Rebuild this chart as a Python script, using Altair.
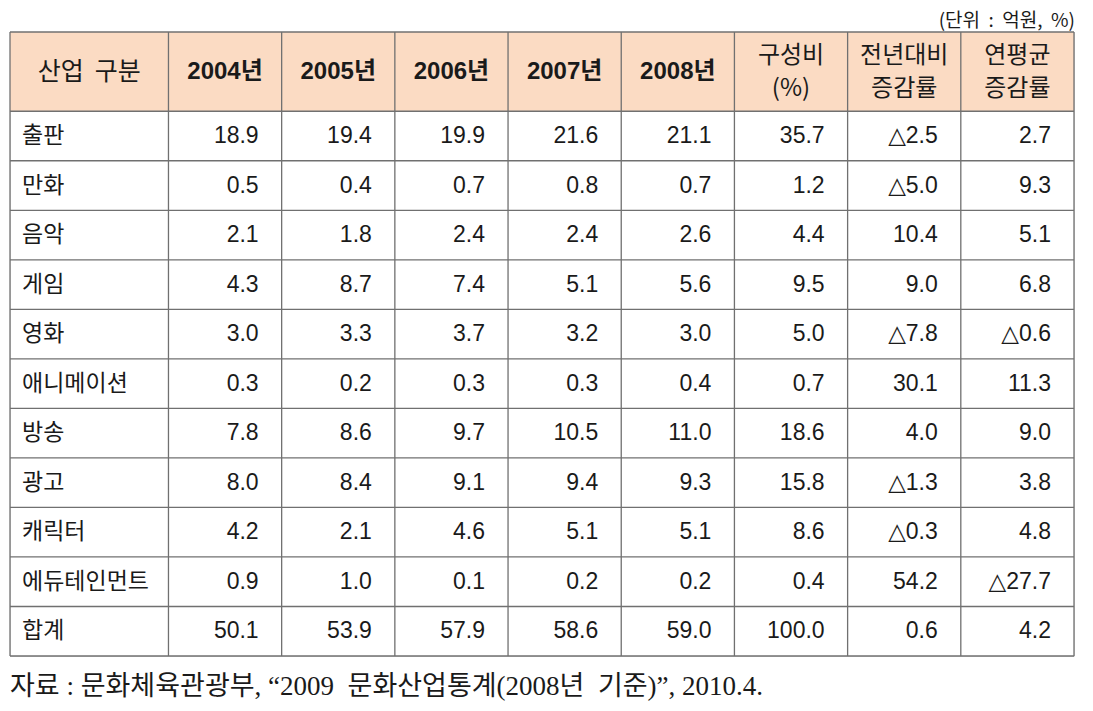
import altair as alt
import pandas as pd

NB = "\u00a0"
# ---- data ----
categories = ["출판", "만화", "음악", "게임", "영화", "애니메이션", "방송", "광고", "캐릭터", "에듀테인먼트", "합계"]
header_labels = ["산업" + NB + NB + "구분", "2004년", "2005년", "2006년", "2007년", "2008년", "구성비\n(%)", "전년대비\n증감률", "연평균\n증감률"]
y2004 = ["18.9", "0.5", "2.1", "4.3", "3.0", "0.3", "7.8", "8.0", "4.2", "0.9", "50.1"]
y2005 = ["19.4", "0.4", "1.8", "8.7", "3.3", "0.2", "8.6", "8.4", "2.1", "1.0", "53.9"]
y2006 = ["19.9", "0.7", "2.4", "7.4", "3.7", "0.3", "9.7", "9.1", "4.6", "0.1", "57.9"]
y2007 = ["21.6", "0.8", "2.4", "5.1", "3.2", "0.3", "10.5", "9.4", "5.1", "0.2", "58.6"]
y2008 = ["21.1", "0.7", "2.6", "5.6", "3.0", "0.4", "11.0", "9.3", "5.1", "0.2", "59.0"]
share = ["35.7", "1.2", "4.4", "9.5", "5.0", "0.7", "18.6", "15.8", "8.6", "0.4", "100.0"]
yoy = ["△2.5", "△5.0", "10.4", "9.0", "△7.8", "30.1", "4.0", "△1.3", "△0.3", "54.2", "0.6"]
cagr = ["2.7", "9.3", "5.1", "6.8", "△0.6", "11.3", "9.0", "3.8", "4.8", "△27.7", "4.2"]
unit_text = "(단위" + NB + NB + ":" + NB + NB + "억원," + NB + NB + "%)"
source_text = ("자료" + NB + ":" + NB + "문화체육관광부," + NB + "“2009" + NB + NB + "문화산업통계(2008년"
               + NB + NB + "기준)”," + NB + "2010.4.")

# ---- table geometry in column / row units ----
col_widths = [1.4] + [1.0] * 8
col_edges = [0.0]
for w in col_widths:
    col_edges.append(round(col_edges[-1] + w, 4))
header_h = 1.6
n_rows = len(categories)
row_edges = [0.0, header_h] + [header_h + i + 1 for i in range(n_rows)]
total_w = col_edges[-1]
total_h = row_edges[-1]

W, H = 1064, 624
xs = alt.Scale(domain=[0, total_w], range=[0, W], nice=False, zero=False)
ys = alt.Scale(domain=[0, total_h], range=[0, H], nice=False, zero=False)
noaxis = None

def X():
    return alt.X("x:Q", scale=xs, axis=noaxis)

def Y():
    return alt.Y("y:Q", scale=ys, axis=noaxis)

# header background
hdr_df = pd.DataFrame([{"x": 0, "x2": total_w, "y": 0, "y2": header_h}])
hdr = alt.Chart(hdr_df).mark_rect(color="#FBDBC3").encode(x=X(), x2="x2:Q", y=Y(), y2="y2:Q")

# grid lines
vl_df = pd.DataFrame([{"x": e, "y": 0, "y2": total_h} for e in col_edges])
hl_df = pd.DataFrame([{"y": e, "x": 0, "x2": total_w} for e in row_edges])
vlines = alt.Chart(vl_df).mark_rule(color="#707070", strokeWidth=1.3).encode(x=X(), y=Y(), y2="y2:Q")
hlines = alt.Chart(hl_df).mark_rule(color="#707070", strokeWidth=1.3).encode(y=Y(), x=X(), x2="x2:Q")

# header text
hdr_rows = []
for i, lab in enumerate(header_labels):
    kind = "year" if 0 < i < 6 else ("multi" if "\n" in lab else "single")
    hdr_rows.append({"x": (col_edges[i] + col_edges[i + 1]) / 2, "y": header_h / 2, "t": lab, "k": kind})
hdr_txt_df = pd.DataFrame(hdr_rows)
hdr_year = alt.Chart(hdr_txt_df[hdr_txt_df["k"] == "year"]).mark_text(
    font="Liberation Sans, Noto Sans CJK KR", fontSize=24, fontWeight="bold",
    color="#1a1a1a", baseline="middle", align="center").encode(x=X(), y=Y(), text="t:N")
hdr_single = alt.Chart(hdr_txt_df[hdr_txt_df["k"] == "single"]).mark_text(
    font="Noto Sans CJK KR", fontSize=25, color="#1a1a1a", baseline="middle",
    align="center").encode(x=X(), y=Y(), text="t:N")
hdr_multi = alt.Chart(hdr_txt_df[hdr_txt_df["k"] == "multi"]).mark_text(
    font="Noto Sans CJK KR", fontSize=24, color="#1a1a1a", baseline="middle",
    align="center", lineBreak="\n", lineHeight=33, dy=-16).encode(x=X(), y=Y(), text="t:N")

# body
cols = [y2004, y2005, y2006, y2007, y2008, share, yoy, cagr]
cat_rows, num_rows = [], []
for r, name in enumerate(categories):
    yc = header_h + r + 0.5
    cat_rows.append({"x": 0, "y": yc, "t": name})
    for c, vals in enumerate(cols):
        num_rows.append({"x": col_edges[c + 2], "y": yc, "t": vals[r]})
cat_txt = alt.Chart(pd.DataFrame(cat_rows)).mark_text(
    font="Noto Sans CJK KR", fontSize=23, color="#1a1a1a", align="left",
    baseline="middle", dx=12).encode(x=X(), y=Y(), text="t:N")
num_txt = alt.Chart(pd.DataFrame(num_rows)).mark_text(
    font="Liberation Sans, DejaVu Sans", fontSize=23, color="#1a1a1a", align="right",
    baseline="middle", dx=-23).encode(x=X(), y=Y(), text="t:N")

# unit label and source
unit_df = pd.DataFrame([{"x": total_w, "y": -0.22, "t": unit_text}])
unit_txt = alt.Chart(unit_df).mark_text(
    font="Noto Sans CJK KR", fontSize=19, color="#1a1a1a", align="right",
    baseline="middle", dx=1).encode(x=X(), y=Y(), text="t:N")
src_df = pd.DataFrame([{"x": 0, "y": total_h + 0.63, "t": source_text}])
src_txt = alt.Chart(src_df).mark_text(
    font="Liberation Serif, Noto Sans CJK KR", fontSize=27, color="#1a1a1a", align="left",
    baseline="middle", dx=0).encode(x=X(), y=Y(), text="t:N")

chart = alt.layer(hdr, vlines, hlines, hdr_year, hdr_single, hdr_multi, cat_txt, num_txt,
                  unit_txt, src_txt).properties(
    width=W, height=H,
    autosize=alt.AutoSizeParams(type="none"),
    padding={"left": 2, "top": 24, "right": 10, "bottom": 47},
).configure_view(stroke=None).configure(background="white")

chart.save("out.html", embed_options={"renderer": "svg", "actions": False})
